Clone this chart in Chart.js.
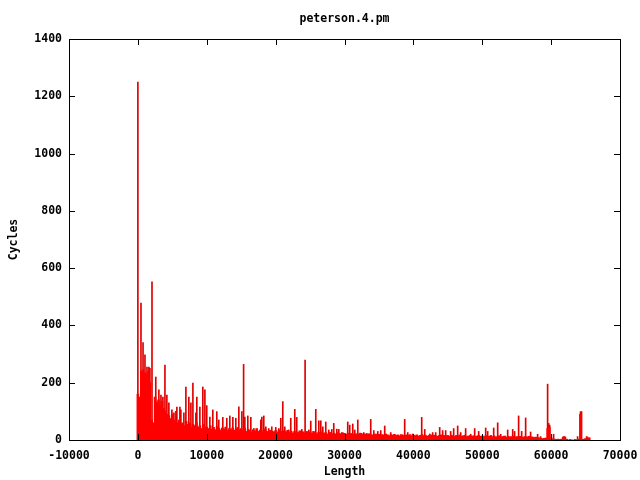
<!DOCTYPE html>
<html>
<head>
<meta charset="utf-8">
<script src="https://cdn.jsdelivr.net/npm/chart.js@4.4.0/dist/chart.umd.min.js"></script>
<style>
  body { margin: 0; background: #fff; }
  canvas { display: block; }
</style>
</head>
<body>
<canvas id="chart" width="640" height="480"></canvas>
<script>
// Axis ticks
const xTicks = [-10000, 0, 10000, 20000, 30000, 40000, 50000, 60000, 70000];
const yTicks = [0, 200, 400, 600, 800, 1000, 1200, 1400];

// Dense impulse floor, one value every 250 of Length (starting at 0)
const binWidth = 250;
const baseCycles = [
  160,150,240,245,235,230,240,200,70,60,150,130,140,120,135,110,100,90,85,75,
  90,70,65,60,70,55,60,50,65,55,60,45,55,50,60,45,50,40,55,45,
  45,40,50,38,44,36,48,40,35,42,38,45,33,40,36,42,34,38,44,36,
  40,35,42,30,38,34,28,36,32,40,30,35,28,33,38,30,27,34,31,29,
  33,28,35,30,26,32,29,34,27,31,25,30,28,26,32,27,29,24,30,26,
  28,24,30,26,22,27,25,29,23,26,21,25,27,22,24,20,26,23,21,25,
  22,20,24,19,23,21,18,22,20,24,19,17,21,18,22,20,17,19,21,18,
  20,17,19,16,21,18,15,19,17,20,16,18,15,19,17,14,18,16,19,15,
  17,15,18,14,16,19,15,17,13,16,18,14,17,15,13,16,18,14,16,15,
  16,13,17,15,12,16,14,18,13,15,17,12,14,16,13,15,12,14,16,13,
  14,12,15,11,13,16,12,14,10,13,15,11,12,14,10,13,11,12,14,10,
  12,10,13,9,11,12,10,13,8,11,9,10,7,8,6,5,6,7,40,45,
  8,4,3,2,3,2,3,10,10,3,0,2,0,0,2,0,3,90,2,3,
  5,10,6
];

// Single tall impulses
const spikeLengths = [
  0, 450, 750, 1030, 1320, 1600, 1750, 2050, 2600, 2750, 3050, 3350, 3630, 3930, 4210, 4500,
  4940, 5230, 5520, 5660, 6100, 6240, 6680, 6970, 7400, 7700, 7990, 8420, 8560, 9000, 9430, 9730,
  10000, 10450, 10880, 11460, 11750, 12330, 12910, 13350, 13790, 14220, 14660, 15100, 15350, 15530, 15960, 16400,
  16830, 17850, 18000, 18280, 18570, 19000, 19440, 20020, 20460, 20750, 21040, 21330, 21910, 22200, 22780, 23070,
  23800, 24280, 24820, 25100, 25830, 26270, 26560, 26850, 27280, 27720, 28150, 28440, 28880, 29170, 29600, 30040,
  30470, 30760, 31200, 31490, 31930, 32510, 32800, 33230, 33810, 34250, 34830, 35260, 35840, 36710, 38740, 39180,
  39900, 41210, 41650, 42370, 42800, 43240, 43820, 44250, 44690, 45410, 45850, 46430, 46870, 47590, 48320, 48900,
  49480, 50500, 50790, 51660, 52240, 52680, 53110, 53690, 54420, 54700, 55280, 55720, 56300, 57020, 58040, 58480,
  59490, 59640, 59780, 60360, 61810, 61960, 63840, 64270, 64420, 65150, 65580
];
const spikeCycles = [
  1250, 478, 340, 297, 255, 255, 250, 552, 220, 133, 175, 157, 150, 262, 157, 130,
  105, 95, 100, 115, 115, 105, 95, 185, 150, 130, 199, 95, 150, 115, 185, 175,
  120, 80, 105, 99, 70, 79, 76, 84, 79, 76, 116, 99, 264, 80, 84, 79,
  40, 70, 80, 84, 46, 40, 46, 44, 40, 76, 134, 46, 35, 76, 107, 79,
  37, 279, 35, 66, 107, 67, 67, 46, 63, 35, 37, 58, 38, 37, 26, 23,
  63, 52, 56, 35, 70, 23, 26, 23, 72, 33, 30, 33, 49, 26, 72, 26,
  21, 79, 37, 21, 26, 26, 44, 33, 33, 30, 40, 49, 26, 40, 20, 40,
  30, 42, 30, 42, 60, 20, 12, 35, 37, 30, 84, 30, 77, 28, 20, 12,
  195, 58, 52, 20, 12, 12, 12, 99, 99, 12, 8
];

const basePoints = baseCycles.map((v, i) => ({ x: i * binWidth, y: v }));
const spikePoints = spikeLengths.map((x, i) => ({ x: x, y: spikeCycles[i] }));

const monoFont = { family: "'DejaVu Sans Mono', monospace", size: 11.5, weight: 'bold' };

// gnuplot-like frame with inward ticks on all four sides
const framePlugin = {
  id: 'frame',
  afterDraw(chart) {
    const { ctx, chartArea: a, scales } = chart;
    const len = 6;
    ctx.save();
    ctx.strokeStyle = '#000';
    ctx.lineWidth = 1;
    ctx.strokeRect(a.left + 0.5, a.top + 0.5, a.right - a.left, a.bottom - a.top);
    ctx.beginPath();
    xTicks.forEach(t => {
      const px = Math.round(scales.x.getPixelForValue(t)) + 0.5;
      ctx.moveTo(px, a.bottom); ctx.lineTo(px, a.bottom - len);
      ctx.moveTo(px, a.top); ctx.lineTo(px, a.top + len);
    });
    yTicks.forEach(t => {
      const py = Math.round(scales.y.getPixelForValue(t)) + 0.5;
      ctx.moveTo(a.left, py); ctx.lineTo(a.left + len, py);
      ctx.moveTo(a.right, py); ctx.lineTo(a.right - len, py);
    });
    ctx.stroke();
    ctx.restore();
  }
};

new Chart(document.getElementById('chart'), {
  type: 'bar',
  data: {
    datasets: [
      {
        label: 'floor',
        data: basePoints,
        backgroundColor: '#ff0000',
        borderWidth: 0,
        barThickness: 2,
        grouped: false
      },
      {
        label: 'peterson.4.pm',
        data: spikePoints,
        backgroundColor: '#e00000',
        borderWidth: 0,
        barThickness: 1,
        grouped: false
      }
    ]
  },
  options: {
    responsive: false,
    animation: false,
    layout: { padding: { left: 0, right: 20, top: 0, bottom: 0 } },
    plugins: {
      legend: { display: false },
      tooltip: { enabled: false },
      title: {
        display: true,
        text: 'peterson.4.pm',
        color: '#000',
        font: monoFont,
        fullSize: false,
        padding: { top: 12, bottom: 13.2 }
      }
    },
    scales: {
      x: {
        type: 'linear',
        offset: false,
        min: -10000,
        max: 70000,
        afterBuildTicks: s => { s.ticks = xTicks.map(v => ({ value: v })); },
        afterFit: s => { s.height = 40; s.paddingLeft = 0; s.paddingRight = 0; },
        grid: { display: false, drawTicks: false },
        border: { display: false },
        ticks: { color: '#000', font: monoFont, padding: 9, maxRotation: 0, callback: v => String(v) },
        title: { display: true, text: 'Length', color: '#000', font: monoFont, padding: { top: 0, bottom: 1 } }
      },
      y: {
        min: 0,
        max: 1400,
        afterBuildTicks: s => { s.ticks = yTicks.map(v => ({ value: v })); },
        afterFit: s => { s.width = 69; s.paddingTop = 0; s.paddingBottom = 0; },
        grid: { display: false, drawTicks: false },
        border: { display: false },
        ticks: { color: '#000', font: monoFont, padding: 7, callback: v => String(v) },
        title: { display: true, text: 'Cycles', color: '#000', font: monoFont, padding: { top: 7, bottom: 0 } }
      }
    }
  },
  plugins: [framePlugin]
});
</script>
</body>
</html>
